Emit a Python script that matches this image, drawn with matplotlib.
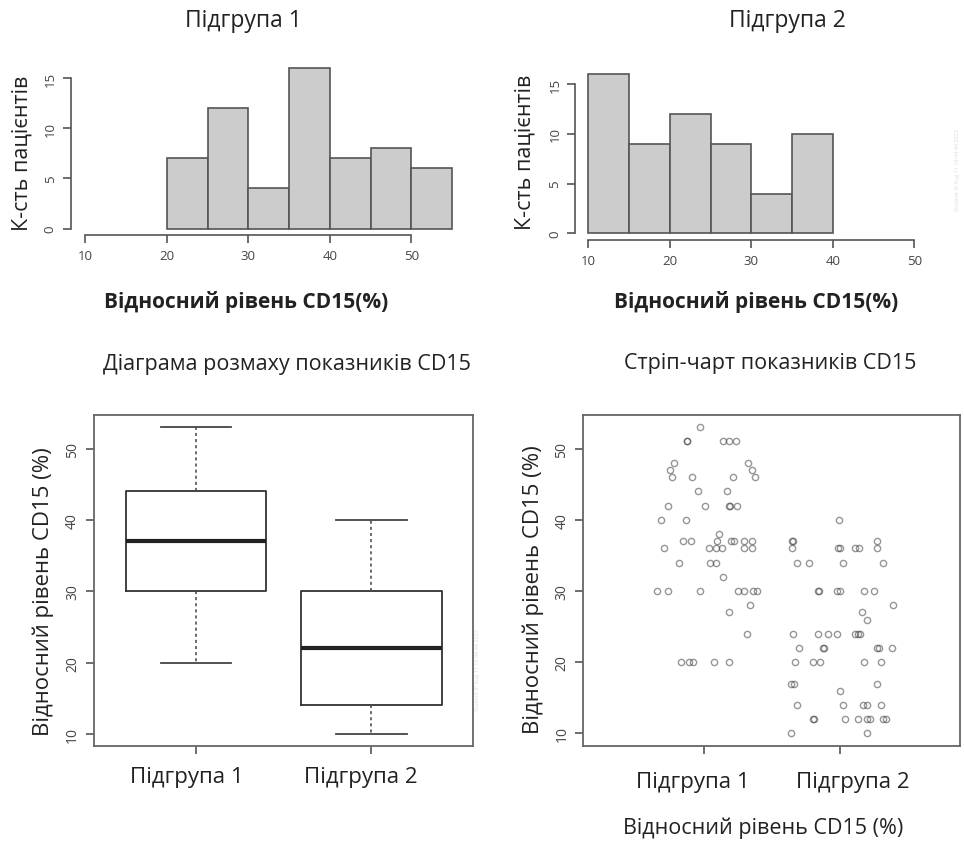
import matplotlib
matplotlib.use("Agg")
import matplotlib.pyplot as plt

plt.rcParams['font.family'] = ['Open Sans', 'DejaVu Sans']

# histogram data: bin edges and counts
bins_g1 = [20, 25, 30, 35, 40, 45, 50, 55]
counts_g1 = [7, 12, 4, 16, 7, 8, 6]
bins_g2 = [10, 15, 20, 25, 30, 35, 40]
counts_g2 = [16, 9, 12, 9, 4, 10]

# boxplot summaries (whisker low, q1, median, q3, whisker high)
groups = ['Підгрупа 1', 'Підгрупа 2']
box_g1 = [20, 30, 37, 44, 53]
box_g2 = [10, 14, 22, 30, 40]

# strip chart points (jittered x, value)
strip_x1 = [0.97, 0.87, 0.87, 1.135, 1.18, 1.23,
            0.78, 0.745, 0.765, 0.91, 1.21, 1.32, 1.35, 1.37,
            0.95, 1.17,
            0.735, 1.005, 1.18, 1.19, 1.24,
            0.68, 0.865, 1.11,
            0.84, 0.905, 1.09, 1.20, 1.22, 1.29, 1.35,
            0.705, 1.035, 1.085, 1.13, 1.29, 1.35,
            0.81, 1.04, 1.085, 1.135,
            0.654, 0.735, 0.97, 1.25, 1.29, 1.36, 1.385,
            1.34, 1.18, 1.315,
            0.83, 0.89, 0.915, 1.07, 1.18]
strip_y1 = [53, 51, 51, 51, 51, 51,
            48, 47, 46, 46, 46, 48, 47, 46,
            44, 44,
            42, 42, 42, 42, 42,
            40, 40, 38,
            37, 37, 37, 37, 37, 37, 37,
            36, 36, 36, 36, 36, 36,
            34, 34, 34, 32,
            30, 30, 30, 30, 30, 30, 30,
            28, 27, 24,
            20, 20, 20, 20, 20]
strip_x2 = [1.646, 1.65, 1.646, 1.68, 1.774,
            1.99, 1.985, 2.0, 2.02, 2.11, 2.14, 2.27, 2.27, 2.32,
            1.835, 1.845, 1.975, 2.0, 2.18, 2.25,
            2.39, 2.16, 2.2,
            1.65, 1.84, 1.91, 1.98, 2.11, 2.135, 2.145,
            1.70, 1.875, 1.885, 2.275, 2.285, 2.38,
            1.67, 1.80, 1.85, 2.18, 2.30,
            1.64, 1.66, 2.27, 2.0,
            1.68, 2.02, 2.17, 2.20, 2.30,
            1.80, 1.805, 2.04, 2.135, 2.2, 2.22, 2.32, 2.34,
            1.64, 2.2]
strip_y2 = [37, 37, 36, 34, 34,
            40, 36, 36, 34, 36, 36, 37, 36, 34,
            30, 30, 30, 30, 30, 30,
            28, 27, 26,
            24, 24, 24, 24, 24, 24, 24,
            22, 22, 22, 22, 22, 22,
            20, 20, 20, 20, 20,
            17, 17, 17, 16,
            14, 14, 14, 14, 14,
            12, 12, 12, 12, 12, 12, 12, 12,
            10, 10]

W, H = 964, 845
fig = plt.figure(figsize=(W / 100, H / 100), dpi=100)


def rect(l, t, r, b):
    return [l / W, 1 - b / H, (r - l) / W, (b - t) / H]


def ftext(x, y, s, **kw):
    fig.text(x / W, 1 - y / H, s, ha='center', va='center', **kw)


txt_col = '#222222'
axis_col = '#555555'
tick_kw = dict(labelsize=10, colors=axis_col, labelcolor='#444444',
               length=6, width=1.2, pad=4)


def rotate_ylabels(ax):
    for lb in ax.get_yticklabels():
        lb.set_rotation(90)
        lb.set_va('center')


def r_hist(ax, edges, counts, xlim, xticks):
    ax.bar(edges[:-1], counts, width=5, align='edge', color='#cccccc',
           edgecolor='#555555', linewidth=1.2)
    ax.set_xlim(xlim)
    ax.set_ylim(-0.64, 16.64)
    ax.set_xticks(xticks)
    ax.set_yticks([0, 5, 10, 15])
    for s in ['top', 'right']:
        ax.spines[s].set_visible(False)
    ax.spines['left'].set_bounds(0, 15)
    ax.spines['bottom'].set_bounds(xticks[0], xticks[-1])
    for s in ['left', 'bottom']:
        ax.spines[s].set_color(axis_col)
        ax.spines[s].set_linewidth(1.2)
    ax.tick_params(**tick_kw)
    ax.tick_params(labelsize=9.5)
    rotate_ylabels(ax)


ax1 = fig.add_axes(rect(70.7, 62.6, 466.8, 236))
r_hist(ax1, bins_g1, counts_g1, (8.2, 56.8), [10, 20, 30, 40, 50])
ax2 = fig.add_axes(rect(575.3, 68.9, 927.3, 240.7))
r_hist(ax2, bins_g2, counts_g2, (8.4, 51.6), [10, 20, 30, 40, 50])

ftext(243, 21, 'Підгрупа 1', fontsize=16.5, color=txt_col)
ftext(787, 21, 'Підгрупа 2', fontsize=16.5, color=txt_col)
ftext(246, 302, 'Відносний рівень CD15(%)', fontsize=15, fontweight='bold', color=txt_col)
ftext(756, 302, 'Відносний рівень CD15(%)', fontsize=15, fontweight='bold', color=txt_col)
ftext(22, 153, 'К-сть пацієнтів', fontsize=15.5, rotation=90, color=txt_col)
ftext(525, 152, 'К-сть пацієнтів', fontsize=15.5, rotation=90, color=txt_col)

# boxplot
ax3 = fig.add_axes(rect(94, 416, 473.3, 747.3))
stats = []
for name, b in zip(groups, [box_g1, box_g2]):
    stats.append(dict(label=name, whislo=b[0], q1=b[1], med=b[2], q3=b[3], whishi=b[4]))
ax3.bxp(stats, positions=[1, 2], widths=0.8, showfliers=False, patch_artist=False,
        boxprops=dict(color='#333333', linewidth=1.3),
        medianprops=dict(color='#222222', linewidth=3),
        whiskerprops=dict(color='#444444', linewidth=1.1, linestyle=(0, (2, 2))),
        capprops=dict(color='#444444', linewidth=1.3),
        capwidths=0.4)
ax3.set_xlim(0.42, 2.58)
ax3.set_ylim(8.28, 54.72)
ax3.set_yticks([10, 20, 30, 40, 50])
ax3.set_xticks([1, 2])
ax3.set_xticklabels([])
for s in ax3.spines.values():
    s.set_color('#666666')
    s.set_linewidth(1.3)
ax3.tick_params(**tick_kw)
rotate_ylabels(ax3)

ftext(287, 365, 'Діаграма розмаху показників CD15', fontsize=15.5, color=txt_col)
ftext(43, 592, 'Відносний рівень CD15 (%)', fontsize=16, rotation=90, color=txt_col)
ftext(187, 778, groups[0], fontsize=16, color=txt_col)
ftext(361, 778, groups[1], fontsize=16, color=txt_col)

# strip chart
ax4 = fig.add_axes(rect(583.3, 416, 960, 746.7))
pt_kw = dict(marker='o', linestyle='none', markersize=4.5, markerfacecolor='none',
             markeredgecolor=(0.25, 0.25, 0.25, 0.55), markeredgewidth=1.0)
ax4.plot(strip_x1, strip_y1, **pt_kw)
ax4.plot(strip_x2, strip_y2, **pt_kw)
ax4.set_xlim(0.108, 2.884)
ax4.set_ylim(8.28, 54.72)
ax4.set_yticks([10, 20, 30, 40, 50])
ax4.set_xticks([1, 2])
ax4.set_xticklabels([])
for s in ax4.spines.values():
    s.set_color('#666666')
    s.set_linewidth(1.3)
ax4.tick_params(**tick_kw)
rotate_ylabels(ax4)

ftext(770, 364, 'Стріп-чарт показників CD15', fontsize=15.5, color=txt_col)
ftext(533, 590, 'Відносний рівень CD15 (%)', fontsize=16, rotation=90, color=txt_col)
ftext(693, 783, groups[0], fontsize=16, color=txt_col)
ftext(853, 783, groups[1], fontsize=16, color=txt_col)
ftext(763, 828, 'Відносний рівень CD15 (%)', fontsize=15.5, color=txt_col)

# faint stamps at the edges
ftext(957, 170, 'Student IP Aug 11 19:44:44 2023', fontsize=4, rotation=90, color='#dddddd')
ftext(477, 670, 'Student IP Aug 11 19:44:44 2023', fontsize=4, rotation=90, color='#dddddd')

fig.savefig('out.png', dpi=100)
